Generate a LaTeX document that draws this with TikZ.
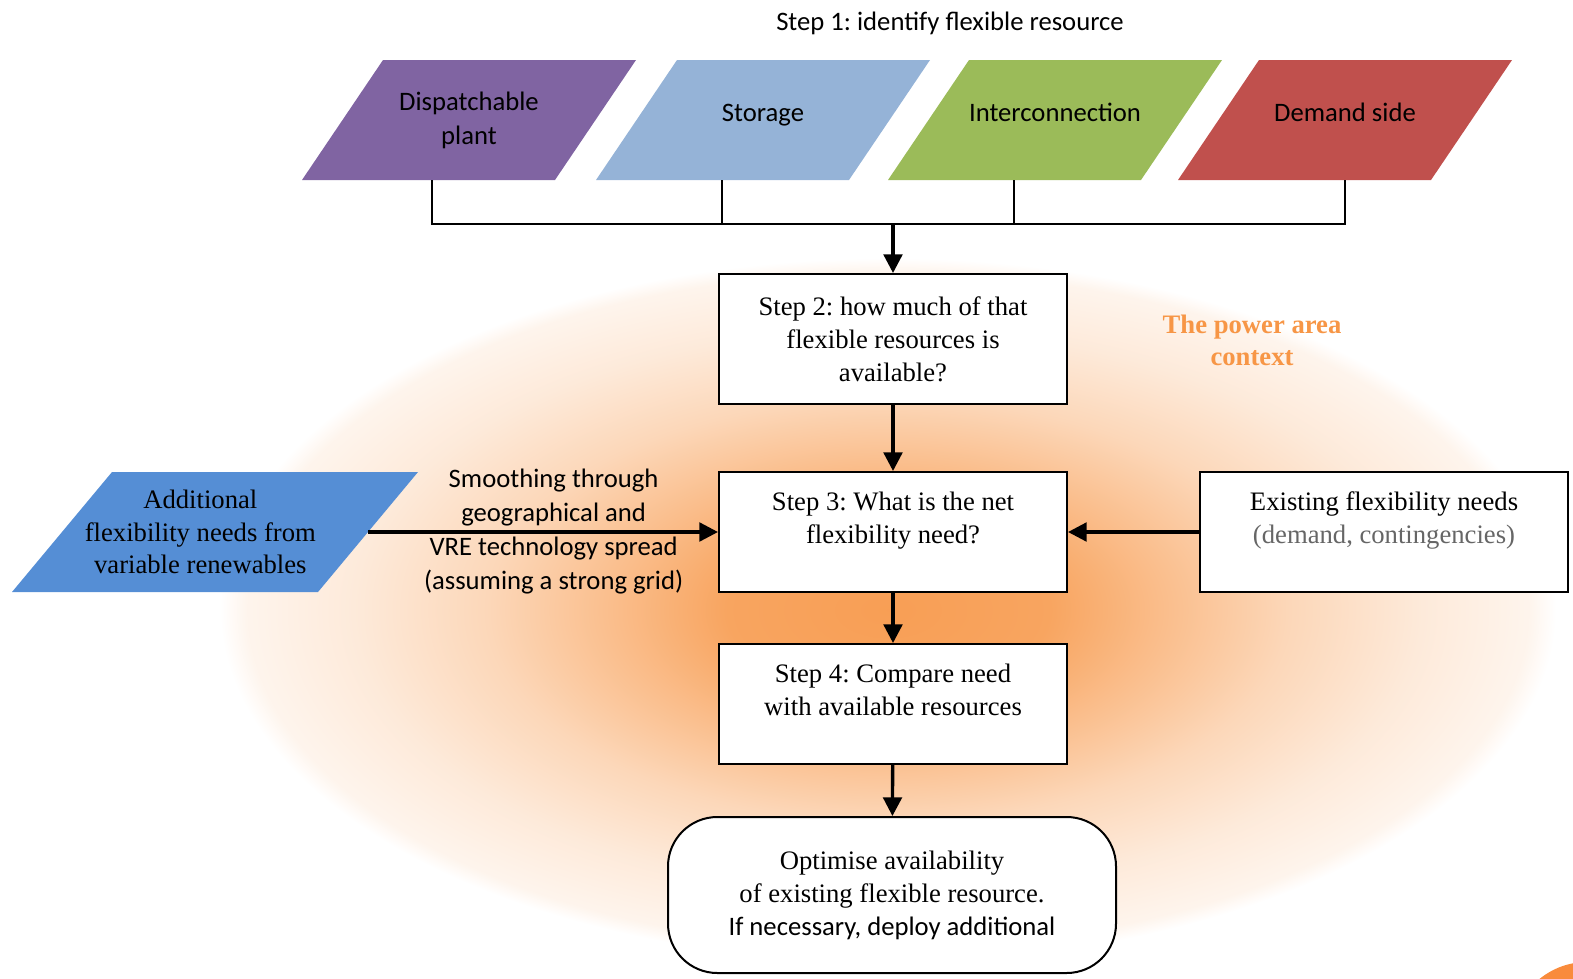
\documentclass[tikz,border=0pt]{standalone}
\usepackage{fontspec}
\setmainfont{Liberation Serif}
\newfontfamily\calibri{Carlito}
\frenchspacing
\usetikzlibrary{calc}
\usetikzlibrary{positioning}
\usetikzlibrary{arrows.meta}

\definecolor{plantfill}{HTML}{8064A2}
\definecolor{storagefill}{HTML}{95B3D7}
\definecolor{interfill}{HTML}{9BBB59}
\definecolor{demandfill}{HTML}{C0504D}
\definecolor{vrefill}{HTML}{558ED5}
\definecolor{areaorange}{HTML}{F79646}
\definecolor{dotorange}{HTML}{F98B3C}

\pgfdeclareradialshading{powerarea}{\pgfpointorigin}{%
    color(0bp)=(areaorange!92);
    color(6bp)=(areaorange!86);
    color(10bp)=(areaorange!64);
    color(15bp)=(areaorange!38);
    color(20bp)=(areaorange!20);
    color(24bp)=(areaorange!10);
    color(25bp)=(white);
    color(50bp)=(white)}

\newcommand\padright{\rule{22pt}{0pt}}

\begin{document}
\begin{tikzpicture}[
        x=0.75pt, y=-0.75pt,
        resource/.style n args={2}{rectangle, minimum width=250.5pt, minimum height=90pt,
            inner sep=0pt, align=center, font=\calibri\fontsize{20}{25.5}\selectfont,
            path picture={
                \fill[#1] (path picture bounding box.south west)
                    -- ($(path picture bounding box.north west)+(#2,0)$)
                    -- (path picture bounding box.north east)
                    -- ($(path picture bounding box.south east)+(-#2,0)$) -- cycle;
            }},
        oneline/.style={text height=14pt, text depth=11.5pt},
        stepbox/.style={rectangle, draw=black, line width=1.5pt, fill=white,
            minimum width=261pt, minimum height=90pt, align=center,
            font=\fontsize{20}{24.75}\selectfont},
        lifted/.style={text depth=22pt},
        flow/.style={-{Triangle[length=14pt, width=14pt]}, line width=2.5pt},
        bus/.style={line width=1.5pt},
    ]

    \useasboundingbox (0,0) rectangle (1573,978);

    % background
    \shade[shading=powerarea] (888,610) ellipse [x radius=668, y radius=352];
    \fill[dotorange] (1587,1037) circle [radius=75];

    \node[font=\calibri\fontsize{20}{24}\selectfont] (title) at (950,23)
        {Step 1: identify flexible resource};

    % Step 1 resources
    \node[resource={plantfill}{81}] (plant) at (469,120) {Dispatchable\\plant};
    \node[resource={storagefill}{81}, oneline] (storage) at (763,120) {Storage};
    \node[resource={interfill}{81}, oneline] (inter) at (1055,120) {Interconnection};
    \node[resource={demandfill}{81}, oneline] (demand) at (1345,120) {Demand side};

    % Steps
    \node[stepbox, minimum height=97.5pt] (step2) at (893,339)
        {Step 2: how much of that\\flexible resources is\\available?};
    \node[stepbox, lifted] (step3) at (893,532)
        {Step 3: What is the net\\flexibility need?};
    \node[stepbox, lifted] (step4) at (893,704)
        {Step 4: Compare need\\with available resources};
    \node[stepbox, minimum width=336pt, minimum height=117pt, rounded corners=37pt] (optimise) at (892,895)
        {Optimise availability\\of existing flexible resource.\\{\calibri If necessary, deploy additional}};

    \node[resource={vrefill}{100}, minimum width=304.5pt, font=\fontsize{20}{24.5}\selectfont] (vre) at (215,532)
        {Additional\padright\\flexibility needs from\padright\\variable renewables\padright};
    \node[stepbox, lifted, minimum width=276pt] (existing) at (1384,532)
        {Existing flexibility needs\\\textcolor{black!60}{(demand, contingencies)}};

    \node[font=\bfseries\fontsize{20}{24}\selectfont, text=areaorange, align=center] (context) at (1252,340)
        {The power area\\context};

    % connectors
    \coordinate (busY) at (0,224);
    \coordinate (plantfoot) at ($(plant.south west)+(130,0)$);
    \coordinate (storagefoot) at ($(storage.south west)+(126,0)$);
    \coordinate (interfoot) at ($(inter.south west)+(126,0)$);
    \draw[bus] (plantfoot) |- (demand.south |- busY) -- (demand.south);
    \draw[bus] (storagefoot) -- (storagefoot |- busY);
    \draw[bus] (interfoot) -- (interfoot |- busY);

    \draw[flow] (step2.north |- busY) -- (step2.north);
    \draw[flow] (step2) -- (step3);
    \draw[flow] (step3) -- (step4);
    \draw[flow] (step4) -- (optimise);
    \draw[flow] (existing) -- (step3);
    \draw[flow] ($(vre.east)+(-50,0)$) -- (step3.west)
        node[pos=0.53, align=center, font=\calibri\fontsize{20}{25.5}\selectfont] (smoothing)
        {Smoothing through\\geographical and\\VRE technology spread\\(assuming a strong grid)};
\end{tikzpicture}
\end{document}
